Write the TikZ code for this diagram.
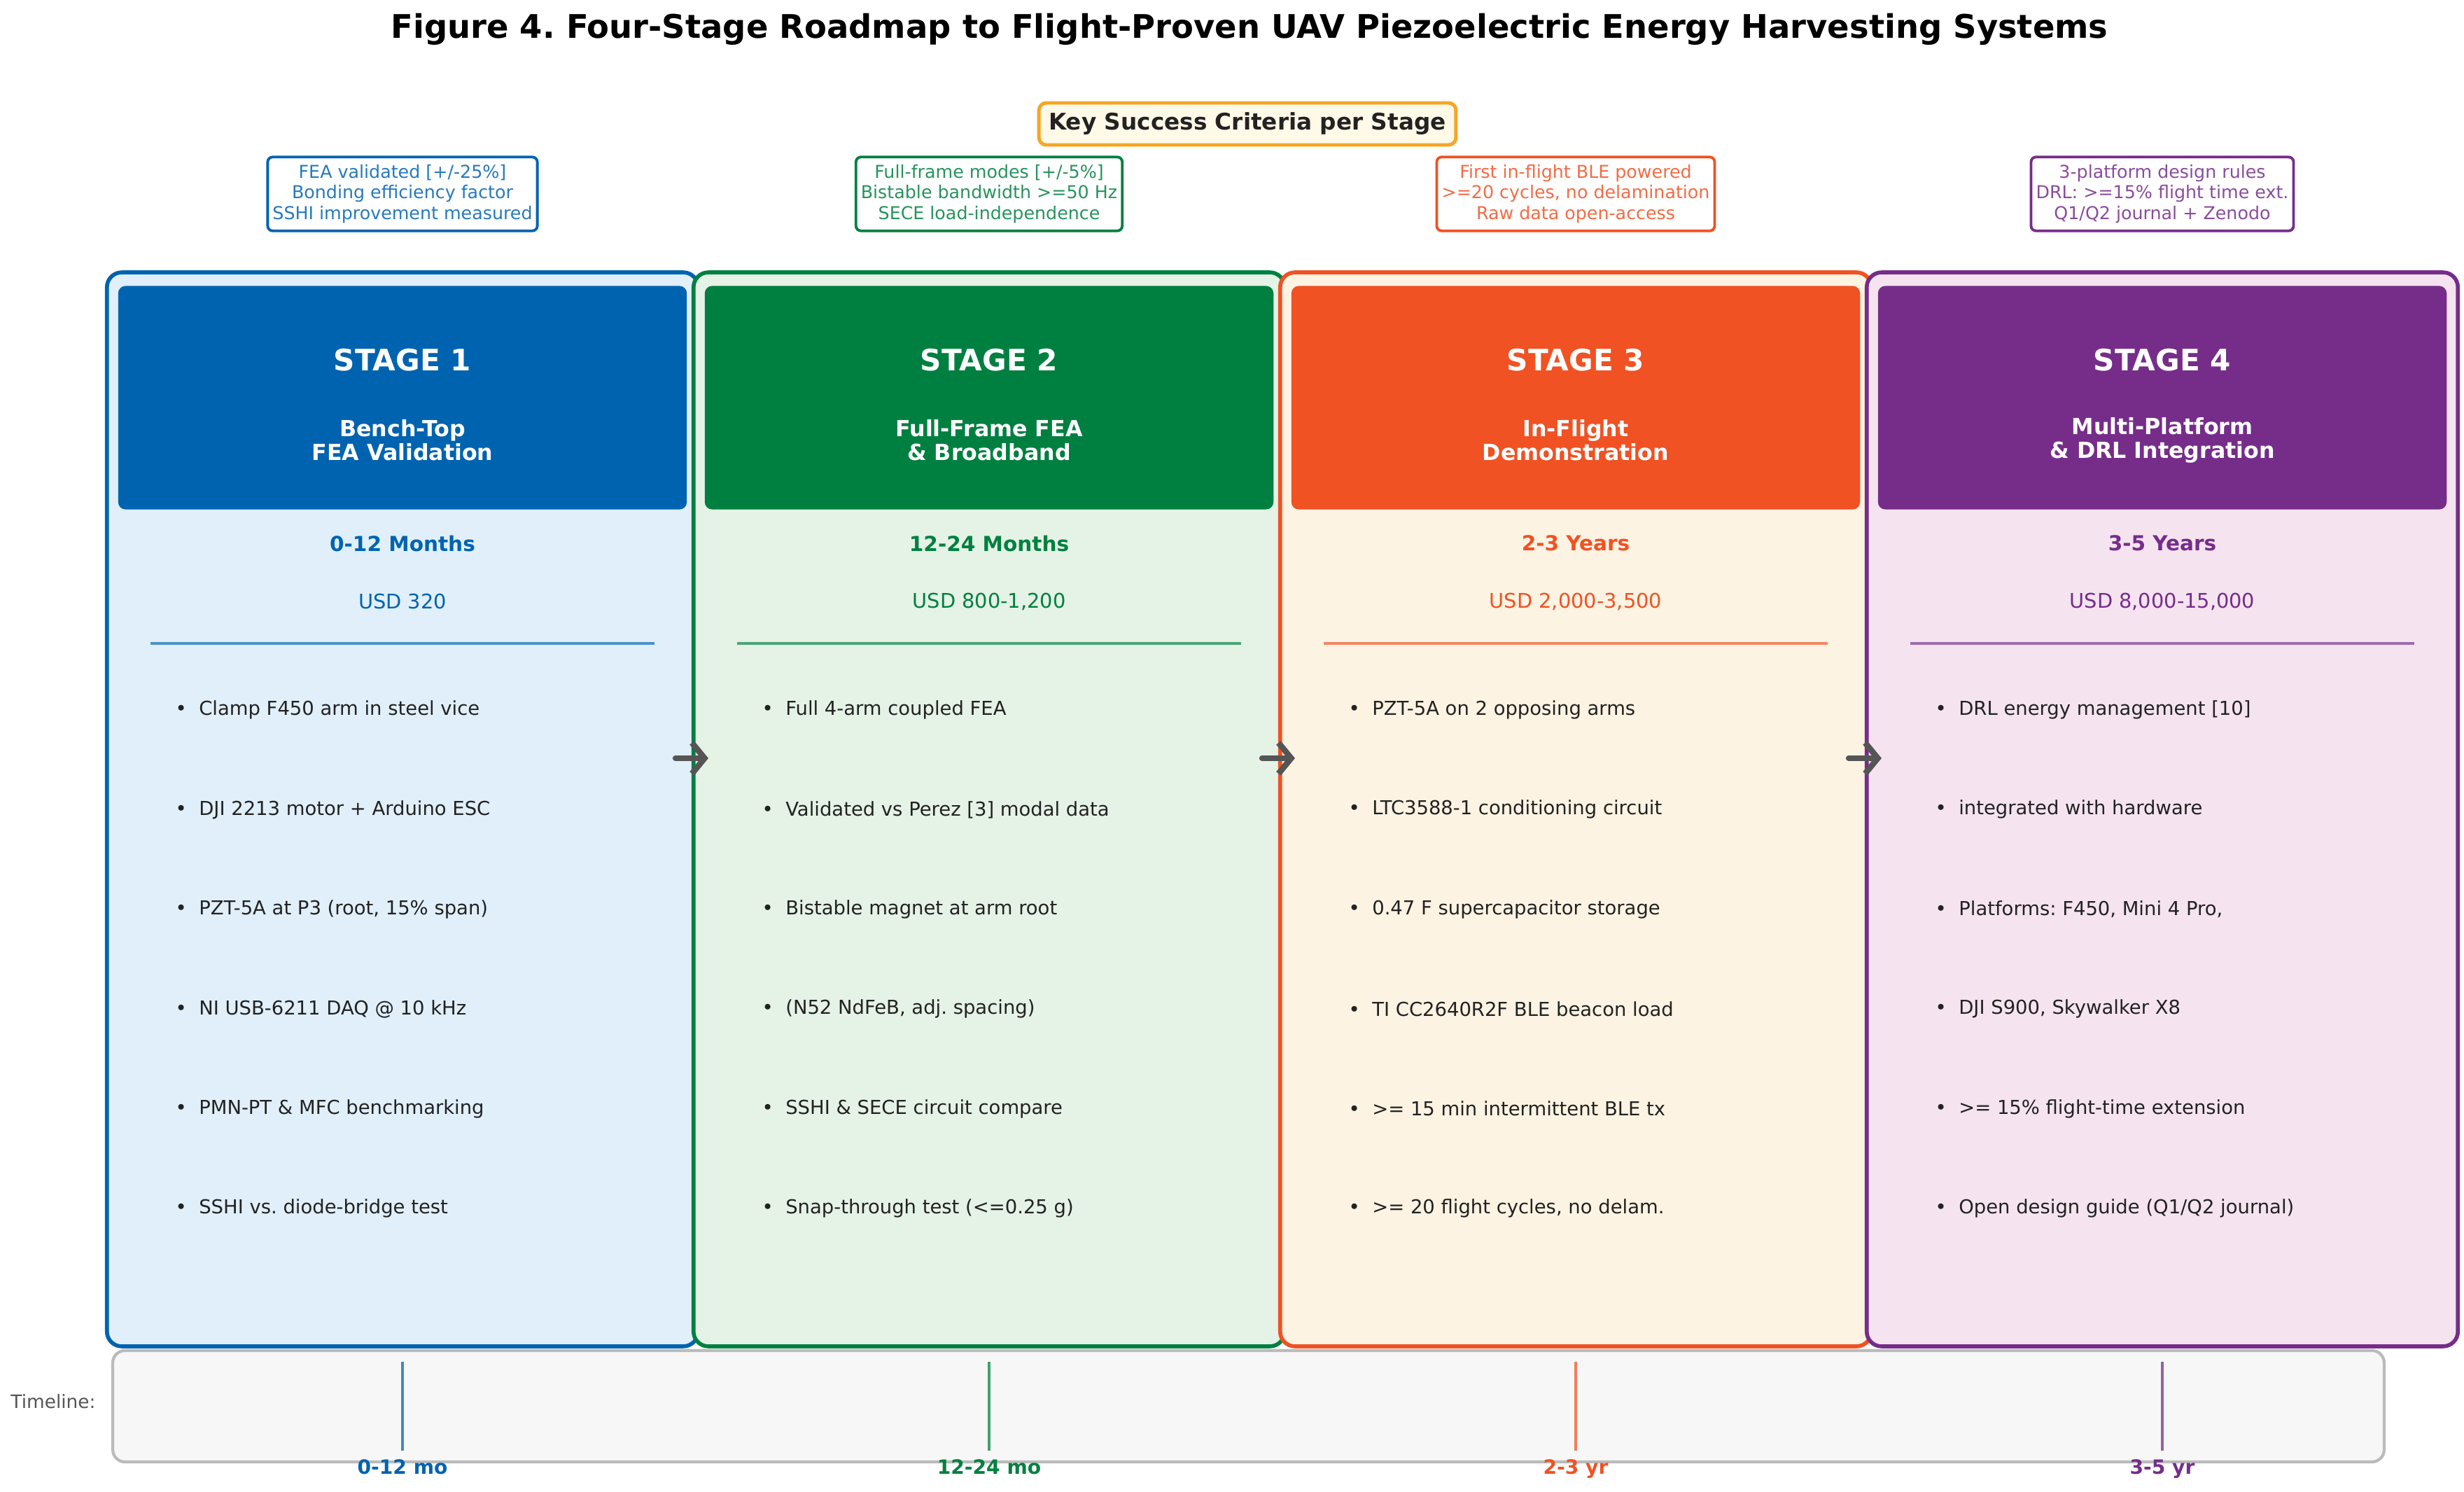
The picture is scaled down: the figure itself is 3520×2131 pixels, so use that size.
\documentclass[tikz,border=0pt]{standalone}
\usepackage{fontspec}
\setmainfont{DejaVu Sans}
\frenchspacing
\usetikzlibrary{arrows.meta,positioning,calc}
\definecolor{stblue}{HTML}{0063B0}
\definecolor{stgreen}{HTML}{008040}
\definecolor{storange}{HTML}{F05223}
\definecolor{stpurple}{HTML}{762D8A}
\definecolor{bgblue}{HTML}{E0EFF9}
\definecolor{bggreen}{HTML}{E5F2E6}
\definecolor{bgorange}{HTML}{FDF3E3}
\definecolor{bgpurple}{HTML}{F5E4F0}
\definecolor{ink}{HTML}{222222}
\definecolor{keyedge}{HTML}{F5A623}
\definecolor{keyfill}{HTML}{FFF9E8}
\definecolor{tlgrey}{HTML}{BBBBBB}
\definecolor{tlfill}{HTML}{F7F7F7}
\definecolor{arrowgrey}{HTML}{555555}
\newcommand{\fs}[2]{\fontsize{#1}{#2}\selectfont}
\tikzset{
  stagebox/.style 2 args={draw=#1,fill=#2,line width=1.6pt,rounded corners=6pt,
    minimum width=8.44cm,minimum height=15.33cm,inner sep=0pt},
  head/.style={fill=#1,rounded corners=3pt,minimum width=8.12cm,minimum height=3.19cm,inner sep=0pt},
  headtxt/.style={text=white,font=\bfseries\fs{12}{14}},
  subtxt/.style={text=white,font=\bfseries\fs{9}{9.7},align=center},
  period/.style={text=#1,font=\bfseries\fs{8.4}{10}},
  cost/.style={text=#1,font=\fs{8.2}{10}},
  divider/.style={draw=#1!70,line width=1.1pt},
  item/.style={text=ink,font=\fs{7.8}{9},anchor=west,inner sep=0pt},
  crit/.style={draw=#1,text=#1!85,fill=white,line width=1.1pt,rounded corners=2pt,align=center,
    font=\fs{7.2}{8.5},inner xsep=2pt,inner ysep=3pt},
  flow/.style={-{Straight Barb[length=1.8mm,width=4.4mm]},line width=2.4pt,arrowgrey,line cap=round},
  tick/.style={draw=#1!75,line width=0.9pt},
  tlbl/.style={text=#1,font=\bfseries\fs{8}{9},anchor=base},
}

\begin{document}
\begin{tikzpicture}[x=0.01cm,y=-0.01cm]
  \useasboundingbox (0,0) rectangle (3520,2131);
  \node[font=\bfseries\fs{13.2}{15}] (title) at (1785,42) {Figure 4. Four-Stage Roadmap to Flight-Proven UAV Piezoelectric Energy Harvesting Systems};
  \node[draw=keyedge,fill=keyfill,line width=1.4pt,rounded corners=3pt,font=\bfseries\fs{9.3}{11},text=ink,
    inner xsep=4pt,minimum height=0.6cm] (key) at (1782,177) {Key Success Criteria per Stage};
  \node[crit=stblue] (c1) at (575,277) {FEA validated [+/-25\%]\\ Bonding efficiency factor\\ SSHI improvement measured};
  \node[crit=stgreen] (c2) at (1413,277) {Full-frame modes [+/-5\%]\\ Bistable bandwidth >=50 Hz\\ SECE load-independence};
  \node[crit=storange] (c3) at (2251,277) {First in-flight BLE powered\\ >=20 cycles, no delamination\\ Raw data open-access};
  \node[crit=stpurple] (c4) at (3089,277) {3-platform design rules\\ DRL: >=15\% flight time ext.\\ Q1/Q2 journal + Zenodo};
  % stage 1
  \node[stagebox={stblue}{bgblue}] (s1) at (575,1156) {};
  \node[head=stblue] (h1) at (575,568) {};
  \node[headtxt] (t1) at (575,514) {STAGE 1};
  \node[subtxt] (u1) at (575,629) {Bench-Top\\FEA Validation};
  \node[period=stblue] (m1) at (575,776) {0-12 Months};
  \node[cost=stblue] (d1) at (575,859) {USD 320};
  \draw[divider=stblue] (215,919) -- (935,919);
  \foreach \t [count=\k from 0] in {Clamp F450 arm in steel vice,DJI 2213 motor + Arduino ESC,
      {PZT-5A at P3 (root, 15\% span)},NI USB-6211 DAQ @ 10 kHz,PMN-PT \& MFC benchmarking,SSHI vs. diode-bridge test}
    \node[item] (b1\k) at (250,1014+142.4*\k) {•\ \ \t};
  % stage 2
  \node[stagebox={stgreen}{bggreen}] (s2) at (1413,1156) {};
  \node[head=stgreen] (h2) at (1413,568) {};
  \node[headtxt] (t2) at (1413,514) {STAGE 2};
  \node[subtxt] (u2) at (1413,629) {Full-Frame FEA\\\& Broadband};
  \node[period=stgreen] (m2) at (1413,776) {12-24 Months};
  \node[cost=stgreen] (d2) at (1413,859) {USD 800-1,200};
  \draw[divider=stgreen] (1053,919) -- (1773,919);
  \foreach \t [count=\k from 0] in {Full 4-arm coupled FEA,Validated vs Perez [3] modal data,Bistable magnet at arm root,
      {(N52 NdFeB, adj. spacing)},SSHI \& SECE circuit compare,Snap-through test (<=0.25 g)}
    \node[item] (b2\k) at (1088,1014+142.4*\k) {•\ \ \t};
  % stage 3
  \node[stagebox={storange}{bgorange}] (s3) at (2251,1156) {};
  \node[head=storange] (h3) at (2251,568) {};
  \node[headtxt] (t3) at (2251,514) {STAGE 3};
  \node[subtxt] (u3) at (2251,629) {In-Flight\\Demonstration};
  \node[period=storange] (m3) at (2251,776) {2-3 Years};
  \node[cost=storange] (d3) at (2251,859) {USD 2,000-3,500};
  \draw[divider=storange] (1891,919) -- (2611,919);
  \foreach \t [count=\k from 0] in {PZT-5A on 2 opposing arms,LTC3588-1 conditioning circuit,0.47 F supercapacitor storage,
      TI CC2640R2F BLE beacon load,>= 15 min intermittent BLE tx,{>= 20 flight cycles, no delam.}}
    \node[item] (b3\k) at (1926,1014+142.4*\k) {•\ \ \t};
  % stage 4
  \node[stagebox={stpurple}{bgpurple}] (s4) at (3089,1156) {};
  \node[head=stpurple] (h4) at (3089,568) {};
  \node[headtxt] (t4) at (3089,514) {STAGE 4};
  \node[subtxt] (u4) at (3089,629) {Multi-Platform\\\& DRL Integration};
  \node[period=stpurple] (m4) at (3089,776) {3-5 Years};
  \node[cost=stpurple] (d4) at (3089,859) {USD 8,000-15,000};
  \draw[divider=stpurple] (2729,919) -- (3449,919);
  \foreach \t [count=\k from 0] in {DRL energy management [10],integrated with hardware,{Platforms: F450, Mini 4 Pro,},
      {DJI S900, Skywalker X8},>= 15\% flight-time extension,Open design guide (Q1/Q2 journal)}
    \node[item] (b4\k) at (2764,1014+142.4*\k) {•\ \ \t};
  \foreach \a/\b in {s1/s2,s2/s3,s3/s4}
    \draw[flow] ([xshift=-0.35cm,yshift=0.73cm]\a.east) -- ([xshift=0.24cm,yshift=0.73cm]\b.west);
  % timeline
  \node[draw=tlgrey,fill=tlfill,line width=1.2pt,rounded corners=5pt,minimum width=32.43cm,minimum height=1.59cm] (tl) at (1783.5,2008.5) {};
  \node[text=arrowgrey,font=\fs{7.5}{9}] (tlname) at (76,2002) {Timeline:};
  \foreach \c/\col/\txt [count=\k] in {575/stblue/0-12 mo,1413/stgreen/12-24 mo,2251/storange/2-3 yr,3089/stpurple/3-5 yr}{
    \draw[tick=\col] (\c,1945) -- (\c,2072);
    \node[tlbl=\col] (tm\k) at (\c,2105) {\txt};
  }
\end{tikzpicture}
\end{document}
